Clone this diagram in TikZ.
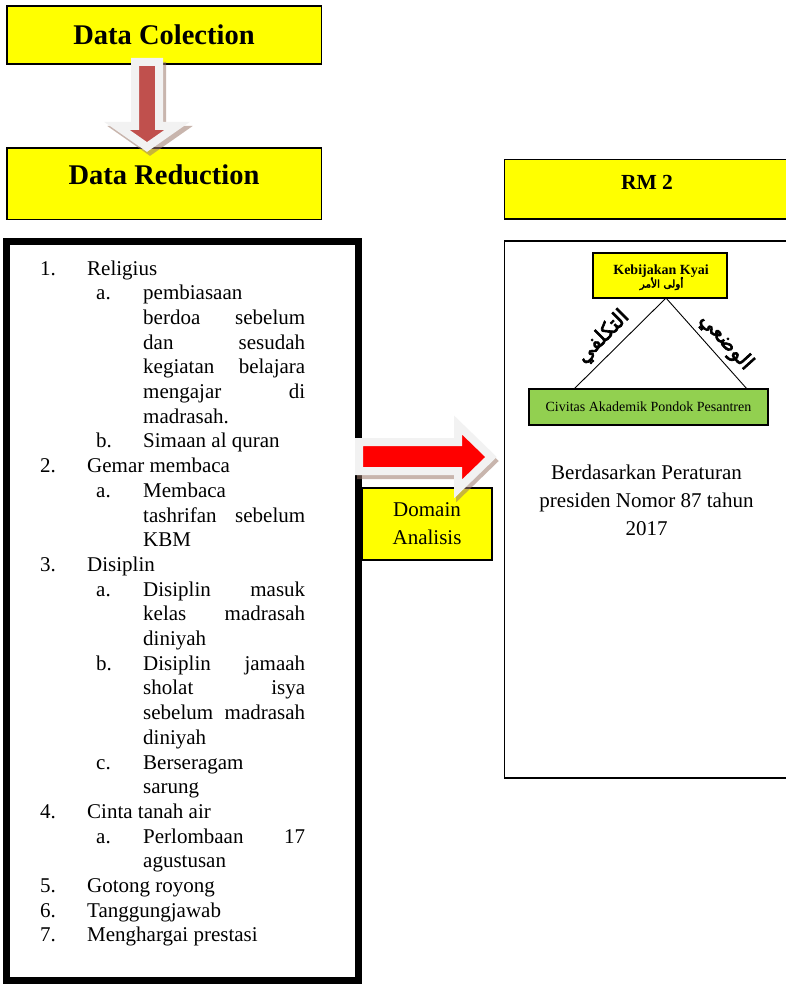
\documentclass[tikz,border=0pt]{standalone}
\usepackage{fontspec}
\setmainfont{Liberation Serif}
\newfontfamily\arabicbold[Script=Arabic,FakeBold=3]{DejaVu Sans}
\TeXXeTstate=1
\usepackage{tikz}
\definecolor{boxyellow}{HTML}{FFFF00}
\definecolor{boxgreen}{HTML}{92D050}
\definecolor{arrowred}{HTML}{C0504D}
\definecolor{brightred}{HTML}{FF0000}
\definecolor{outlinegray}{HTML}{F2F2F2}
\definecolor{shadowbrown}{HTML}{9C7A6A}
\newcommand{\numitem}[2]{\makebox[47pt][l]{#1}#2}
\newcommand{\letitem}[2]{\hspace*{56pt}\makebox[47pt][l]{#1}#2}
\newcommand{\contline}[1]{\hspace*{103pt}#1}
\newcommand{\jfy}[1]{\makebox[162pt][s]{#1}}

\begin{document}
\begin{tikzpicture}[
  x=1pt, y=-1pt,
  ybox/.style={draw=black, line width=1.8pt, fill=boxyellow, inner sep=0pt},
  headtext/.style={font=\fontsize{28.5}{30}\selectfont\bfseries, inner sep=0pt, anchor=base},
  bodytext/.style={font=\fontsize{21}{28}\selectfont, align=center, inner sep=0pt},
  listline/.style={font=\fontsize{21}{24.7}\selectfont, anchor=base west, inner sep=0pt},
  arabiclabel/.style={font=\arabicbold\fontsize{21}{22}\selectfont, inner sep=0pt},
  blockarrow/.style={line width=8pt, draw=outlinegray, line join=miter, miter limit=10},
  arrowshadow/.style={line width=8pt, draw=shadowbrown, opacity=0.55, line join=miter, miter limit=10}
]
  \fill[white] (0,0) rectangle (786,984);
  \useasboundingbox (0,0) rectangle (786,984);

  % left column
  \node[ybox, minimum width=314.5pt, minimum height=58pt] (collect) at (164.25,35) {};
  \node[headtext] (collecttxt) at (164,45) {Data Colection};
  \node[ybox, minimum width=314.5pt, minimum height=71.5pt] (reduct) at (164.25,183.75) {};
  \node[headtext] (reducttxt) at (164,185) {Data Reduction};

  \node[draw=black, line width=7pt, fill=white, minimum width=352pt, minimum height=738.5pt] (listbox) at (182.5,610.75) {};
  \foreach \entry [count=\i] in {
    {\numitem{1.}{Religius}},
    {\letitem{a.}{pembiasaan}},
    {\contline{\jfy{berdoa sebelum}}},
    {\contline{\jfy{dan sesudah}}},
    {\contline{\jfy{kegiatan belajara}}},
    {\contline{\jfy{mengajar di}}},
    {\contline{madrasah.}},
    {\letitem{b.}{Simaan al quran}},
    {\numitem{2.}{Gemar membaca}},
    {\letitem{a.}{Membaca}},
    {\contline{\jfy{tashrifan sebelum}}},
    {\contline{KBM}},
    {\numitem{3.}{Disiplin}},
    {\letitem{a.}{\jfy{Disiplin masuk}}},
    {\contline{\jfy{kelas madrasah}}},
    {\contline{diniyah}},
    {\letitem{b.}{\jfy{Disiplin jamaah}}},
    {\contline{\jfy{sholat isya}}},
    {\contline{\jfy{sebelum madrasah}}},
    {\contline{diniyah}},
    {\letitem{c.}{Berseragam}},
    {\contline{sarung}},
    {\numitem{4.}{Cinta tanah air}},
    {\letitem{a.}{\jfy{Perlombaan 17}}},
    {\contline{agustusan}},
    {\numitem{5.}{Gotong royong}},
    {\numitem{6.}{Tanggungjawab}},
    {\numitem{7.}{Menghargai prestasi}}}
    \node[listline] (line\i) at (40,{275+24.7*(\i-1)}) {\entry};

  % middle
  \node[ybox, line width=1.4pt, minimum width=130pt, minimum height=72pt, bodytext] (domain) at (427,524) {Domain\\Analisis};

  % right column
  \node[ybox, minimum width=285.5pt, minimum height=59.5pt] (rm) at (647.25,189.25) {};
  \node[font=\fontsize{21.5}{24}\selectfont\bfseries, anchor=base, inner sep=0pt] (rmtxt) at (647,190) {RM 2};
  \node[draw=black, line width=1.8pt, fill=white, minimum width=285.5pt, minimum height=537pt] (rmbox) at (647.25,509.5) {};

  \node[ybox, line width=1.2pt, minimum width=134pt, minimum height=45pt] (kyai) at (660,275.5) {};
  \node[font=\fontsize{14}{16}\selectfont\bfseries, anchor=base, inner sep=0pt] (kyaitxt) at (661,274.3) {Kebijakan Kyai};
  \node[font=\arabicbold\fontsize{10.5}{12}\selectfont, anchor=base, inner sep=0pt] (ulilamri) at (661.5,287.5) {\beginR أولى الأمر\endR};

  \coordinate (apex) at (666,298);
  \coordinate (footL) at (574,389);
  \coordinate (footR) at (747,389);
  \draw[line width=0.9pt] (footL) -- (apex) -- (footR);
  \node[arabiclabel, rotate=45] (taklifi) at (603,337) {\beginR التكلفي\endR};
  \node[arabiclabel, rotate=-48] (wadhi) at (726,342) {\beginR الوضعي\endR};

  \node[draw=black, line width=1.4pt, fill=boxgreen, minimum width=239pt, minimum height=36pt, inner sep=0pt,
        font=\fontsize{14}{16}\selectfont] (civitas) at (648.5,407) {Civitas Akademik Pondok Pesantren};

  \node[bodytext, anchor=north] (perpres) at (646.5,464.5) {Berdasarkan Peraturan\\presiden Nomor 87 tahun\\2017};

  % block arrows
  \draw[arrowshadow, shift={(3,4)}] (135,62) -- (159,62) -- (159,126) -- (177,126) -- (147,147) -- (117,126) -- (135,126) -- cycle;
  \filldraw[blockarrow, fill=arrowred] (135,62) -- (159,62) -- (159,126) -- (177,126) -- (147,147) -- (117,126) -- (135,126) -- cycle;

  \draw[arrowshadow, shift={(2,4)}] (359,442) -- (458,442) -- (458,425) -- (491,457) -- (458,489) -- (458,471) -- (359,471) -- cycle;
  \filldraw[blockarrow, fill=brightred] (359,442) -- (458,442) -- (458,425) -- (491,457) -- (458,489) -- (458,471) -- (359,471) -- cycle;
\end{tikzpicture}
\end{document}
